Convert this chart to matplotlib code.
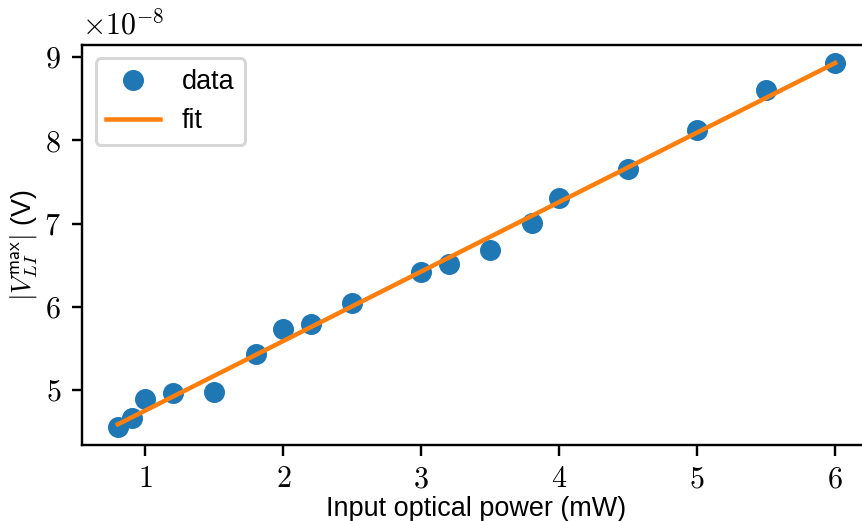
import numpy as np
import matplotlib
matplotlib.use("Agg")
import matplotlib.pyplot as plt

plt.rcParams['font.family'] = 'serif'
plt.rcParams['font.serif'] = ['cmr10']
plt.rcParams['mathtext.fontset'] = 'cm'
plt.rcParams['axes.formatter.use_mathtext'] = True
plt.rcParams['axes.unicode_minus'] = False

# Input optical power (mW)
power_mw = [0.8, 0.9, 1.0, 1.2, 1.5, 1.8, 2.0, 2.2, 2.5, 3.0, 3.2, 3.5, 3.8, 4.0, 4.5, 5.0, 5.5, 6.0]
# |V_LI max| in units of 1e-8 V
v_max_e8 = [4.56, 4.66, 4.89, 4.97, 4.98, 5.43, 5.73, 5.79, 6.05, 6.42, 6.52, 6.68, 7.01, 7.31, 7.66, 8.13, 8.60, 8.93]

x = np.array(power_mw)
y = np.array(v_max_e8) * 1e-8
coef = np.polyfit(x, y, 1)
fit_y = np.polyval(coef, x)

dpi = 216
fig = plt.figure(figsize=(862 / dpi, 521 / dpi), dpi=dpi)
ax = fig.add_axes([82 / 862, 1 - 445 / 521, (871 - 82) / 862, (445 - 44.7) / 521])

ax.plot(x, y, 'o', color='#1f77b4', label='data')
ax.plot(x, fit_y, '-', color='#ff7f0e', label='fit')

sans = 'Liberation Sans'
ax.set_xlabel('Input optical power (mW)', family=sans, fontsize=9, labelpad=1.0)
ax.set_ylabel(r'$|V_{LI}^{\mathsf{max}}|$ (V)', family=sans, fontsize=9, labelpad=1.5)
ax.legend(loc='upper left', prop={'family': sans, 'size': 9})

fig.savefig('out.png', dpi=dpi)
